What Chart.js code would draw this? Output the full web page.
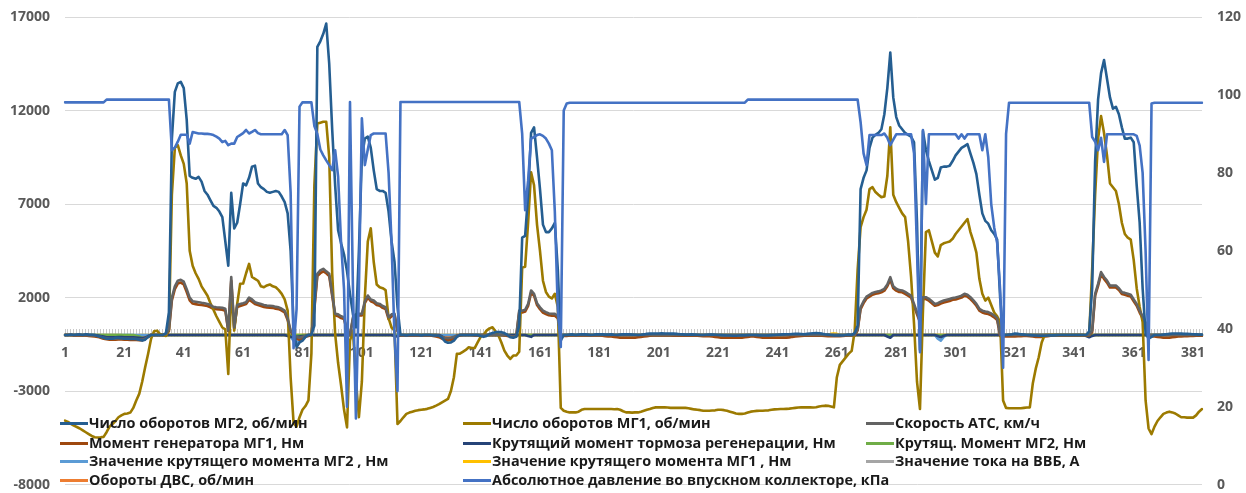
<!DOCTYPE html>
<html>
<head>
<meta charset="utf-8">
<script src="https://cdn.jsdelivr.net/npm/chart.js@4.4.1/dist/chart.umd.min.js"></script>
<style>
  body { margin: 0; background: #fff; }
  #wrap { position: relative; width: 1246px; height: 493px; }
  #legend { position: absolute; left: 0; top: 0; width: 1246px; height: 493px; pointer-events: none; }
  .item { position: absolute; height: 20px; line-height: 20px; white-space: nowrap;
          font: bold 14px 'Open Sans', sans-serif; color: #1a1a1a; }
  .swatch { position: absolute; left: 0; top: 9px; width: 28px; height: 3px; }
  .txt { position: absolute; left: 29px; top: 0; transform: scaleX(1.03); transform-origin: 0 50%; }
</style>
</head>
<body>
<div id="wrap">
  <canvas id="chart"></canvas>
  <div id="legend"></div>
</div>
<script>
const N = 384;
const categories = Array.from({length: N}, (_, i) => String(i + 1));

const seriesNames = [
  'Число оборотов МГ2, об/мин',
  'Число оборотов МГ1, об/мин',
  'Скорость АТС, км/ч',
  'Момент генератора МГ1, Нм',
  'Крутящий момент тормоза регенерации, Нм',
  'Крутящ. Момент МГ2, Нм',
  'Значение крутящего момента МГ2 , Нм',
  'Значение крутящего момента МГ1 , Нм',
  'Значение тока на ВВБ, А',
  'Обороты ДВС, об/мин',
  'Абсолютное давление во впускном коллекторе, кПа'
];

const leftTicks = [-8000, -3000, 2000, 7000, 12000, 17000];
const rightTicks = [0, 20, 40, 60, 80, 100, 120];

// число оборотов МГ2
const mg2Speed = [
  0, 0, 30, 0, 20, 30, 0, 40, 20, 10,
  0, -50, -100, -150, -200, -200, -200, -150, -150, -180,
  -200, -200, -220, -200, -220, -250, -300, -250, -100, 0,
  0, 0, 0, 0, 100, 1200, 10500, 13000, 13450, 13530,
  13200, 11500, 8500, 8400, 8350, 8450, 8200, 7700, 7500, 7200,
  6900, 6800, 6600, 6300, 5000, 3700, 7600, 5700, 6000, 7000,
  8100, 8000, 8400, 9000, 9050, 8100, 7900, 7800, 7650, 7600,
  7650, 7700, 7650, 7400, 7100, 6500, 4500, 400, -650, -400,
  -300, -100, 0, 0, 500, 15400, 15700, 16100, 16650, 14500,
  11000, 8000, 5600, 4900, 4300, 3400, 2200, 1100, 400, 4500,
  9500, 10500, 10600, 10000, 8800, 7800, 7700, 7700, 7600, 6600,
  5000, 3900, 1500, 0, 0, -20, 0, 10, 0, 0,
  -20, 0, 0, 0, -30, -30, -30, -150, -350, -420,
  -400, -300, -100, 0, 0, 0, 0, 0, 0, 0,
  -50, -100, -50, 50, 100, 150, 150, 150, 100, 0,
  -120, -150, -100, 500, 5200, 5300, 7500, 10800, 11100, 9500,
  7800, 5900, 5500, 5500, 5700, 6000, 3500, -300, 0, 0,
  20, 30, 0, 20, 40, 30, 20, 0, 10, 30,
  40, 30, 20, 20, 30, 10, 0, 20, 30, 40,
  30, 20, 10, 0, 10, 30, 60, 70, 80, 80,
  80, 90, 80, 80, 70, 70, 60, 40, 30, 20,
  20, 30, 20, 10, 0, 0, 10, 20, 20, 10,
  0, -10, -20, -30, -30, -40, -40, -30, -20, -20,
  -10, 0, 0, -10, -20, -30, -30, -20, -10, 0,
  10, 20, 30, 40, 40, 50, 60, 60, 50, 40,
  60, 80, 90, 100, 90, 70, 40, 20, 0, -20,
  -30, -20, -30, 0, 20, 0, 100, 500, 7800, 8400,
  8800, 10000, 10550, 10700, 10800, 11000, 11800, 13200, 15100, 12700,
  11650, 11200, 11000, 10800, 10700, 10600, 10300, 6000, -800, 10900,
  9900, 9300, 8800, 8300, 8400, 8950, 9000, 9000, 9050, 9300,
  9600, 9800, 10000, 10100, 10200, 9700, 9200, 8600, 7500, 6500,
  6100, 5950, 5600, 5400, 5100, 2000, 0, 0, 20, 40,
  80, 60, 30, 20, 0, -10, -20, -30, -40, -40,
  -40, -30, -20, -20, -10, 0, 0, 0, 0, 0,
  0, 0, 0, 0, 0, 200, 2500, 9300, 12600, 14000,
  14700, 13700, 12700, 12100, 12200, 11800, 11100, 10500, 10500, 10550,
  10300, 8000, 6000, 2500, 100, -200, -100, 0, 0, 0,
  20, 40, 60, 80, 80, 80, 70, 60, 60, 50,
  40, 30, 20, 20
];

// число оборотов МГ1
const mg1Speed = [
  -4580, -4650, -4750, -4850, -4920, -5000, -5100, -5200, -5300, -5400,
  -5470, -5480, -5470, -5450, -5200, -4900, -4760, -4600, -4400, -4300,
  -4220, -4200, -4150, -3900, -3500, -3150, -2500, -1730, -1000, -200,
  200, 230, 50, 0, -50, 300, 7500, 10000, 10150, 9600,
  9150, 8100, 4500, 3700, 3300, 3000, 2600, 2350, 2100, 1700,
  1350, 1000, 700, 400, 300, -2080, 2550, 235, 1660, 2735,
  2750, 3300, 3800, 3100, 3000, 2900, 2600, 2550, 2650, 2700,
  2600, 2550, 2400, 2200, 1900, 1300, -2260, -4700, -4900, -4400,
  -4000, -3800, -3500, -1000, 8000, 11300, 11350, 11400, 11400, 9500,
  3300, 60, -1500, -2700, -4000, -4940, -300, 235, -2400, -4400,
  -2500, 2000, 5000, 5700, 3900, 2700, 2550, 2500, 2400, 900,
  400, 235, -4760, -4600, -4400, -4220, -4150, -4100, -4050, -4020,
  -4000, -3980, -3950, -3900, -3850, -3780, -3700, -3600, -3510, -3420,
  -3000, -2260, -1010, -1000, -900, -800, -660, -700, -700, -400,
  -100, 0, 235, 350, 410, 200, -30, -400, -835, -1100,
  -1280, -1100, -1100, -900, 3600, 3650, 6000, 8700, 8000, 5900,
  4500, 2900, 2300, 2050, 1950, 2200, 1500, -3900, -4050, -4100,
  -4140, -4140, -4140, -4100, -4000, -3960, -3960, -3960, -3960, -3960,
  -3960, -3960, -3960, -3960, -3960, -3970, -3960, -4000, -4080, -4140,
  -4140, -4150, -4140, -4140, -4100, -4050, -4000, -3960, -3900, -3870,
  -3870, -3870, -3870, -3880, -3900, -3900, -3900, -3900, -3900, -3900,
  -3920, -3950, -3980, -4000, -4020, -4050, -4050, -4050, -4040, -4030,
  -4000, -4000, -4020, -4050, -4100, -4150, -4200, -4220, -4220, -4200,
  -4150, -4100, -4080, -4060, -4050, -4050, -4040, -4030, -4000, -3980,
  -3970, -3960, -3960, -3950, -3940, -3920, -3900, -3880, -3870, -3870,
  -3870, -3870, -3880, -3860, -3820, -3800, -3780, -3790, -3830, -3870,
  -2260, -1600, -1400, -1200, -1000, -850, 200, 3500, 5770, 6300,
  6700, 7800, 7900, 7640, 7500, 7370, 7400, 8500, 11100, 7500,
  7100, 6800, 6500, 6300, 5000, 3100, 600, -2500, -3960, 1300,
  5500, 5600, 5000, 4400, 4200, 4800, 4900, 4950, 5000, 5140,
  5400, 5600, 5800, 6000, 6200, 5500, 5000, 4400, 3000, 2200,
  1840, 2000, 1600, 1200, 1000, 700, -3500, -3900, -3920, -3920,
  -3920, -3920, -3920, -3900, -3880, -3870, -2600, -1800, -1190, -400,
  0, 0, 0, 0, 0, 0, 0, 0, 0, 0,
  0, 0, 0, 0, 0, 0, 3500, 7500, 10500, 11700,
  10800, 9600, 8100, 7900, 7700, 7000, 6000, 5400, 5200, 5100,
  4000, 2500, 1500, 700, -3500, -5000, -5300, -4900, -4600, -4400,
  -4220, -4150, -4100, -4140, -4200, -4300, -4400, -4400, -4420, -4420,
  -4420, -4300, -4100, -3960
];

// скорость АТС
const vehicleSpeed = [
  0, 0, 0, 0, 0, 0, 0, 0, -20, -20,
  -30, -60, -100, -150, -180, -200, -200, -200, -180, -180,
  -200, -200, -200, -200, -220, -250, -250, -200, -100, 0,
  0, 0, 0, 0, 50, 300, 2000, 2600, 2900, 2950,
  2850, 2450, 2000, 1800, 1780, 1750, 1720, 1700, 1660, 1600,
  1500, 1480, 1470, 1450, 1400, 235, 3090, 400, 1600, 1660,
  1700, 1750, 2000, 1900, 1750, 1700, 1650, 1600, 1570, 1560,
  1550, 1500, 1480, 1400, 1300, 900, 235, 0, -100, -150,
  -100, -50, 0, 0, 1500, 3270, 3450, 3540, 3400, 3270,
  2200, 1130, 1100, 1000, 950, 235, 0, 950, 1100, 1130,
  1130, 1800, 2110, 1900, 1840, 1700, 1660, 1550, 1480, 950,
  1100, 1130, 235, 0, 0, 0, 0, 0, 0, 0,
  0, 0, 0, 0, 0, 0, -30, -100, -150, -180,
  -150, -100, -30, 0, 0, 0, 0, 0, 0, 0,
  0, 0, 0, 0, 0, 0, 0, 0, 0, 0,
  -50, -80, -50, 1300, 1300, 1350, 1660, 2380, 2200, 1700,
  1480, 1300, 1220, 1150, 1130, 1130, 1000, 0, 0, 0,
  0, 0, 0, 0, 0, 0, 0, 0, 0, 0,
  0, 0, 0, 0, 0, 0, 0, 0, 0, 0,
  0, 0, 0, 0, 0, 0, 0, 0, 0, 0,
  0, 0, 0, 0, 0, 0, 0, 0, 0, 0,
  0, 0, 0, 0, 0, 0, 0, 0, 0, 0,
  0, 0, 0, 0, 0, 0, 0, 0, 0, 0,
  0, 0, 0, 0, 0, 0, 0, 0, 0, 0,
  0, 0, 0, 0, 0, 0, 0, 0, 0, 0,
  0, 0, 0, 0, 0, 0, 0, 0, 0, 0,
  0, 0, 0, 0, 0, 0, 0, 300, 1480, 1800,
  2050, 2150, 2250, 2300, 2330, 2380, 2470, 2700, 3090, 2600,
  2470, 2400, 2380, 2300, 2200, 2100, 1660, 1200, 770, 2020,
  2020, 1930, 1800, 1660, 1700, 1780, 1840, 1880, 1920, 1980,
  2000, 2050, 2100, 2200, 2150, 2020, 1850, 1660, 1400, 1300,
  1250, 1220, 1150, 1040, 900, 0, 0, 0, 0, 0,
  0, 0, 0, 0, 0, 0, 0, 0, 0, 0,
  0, 0, 0, 0, 0, 0, 0, 0, 0, 0,
  0, 0, 0, 0, 0, 0, 235, 2200, 2735, 3360,
  3100, 2910, 2640, 2640, 2640, 2500, 2290, 2250, 2200, 2150,
  1900, 1660, 1300, 1000, 680, 0, 0, 0, 0, 0,
  0, 0, 0, 0, 0, 0, 0, 0, 0, 0,
  0, 0, 0, 0
];

// момент генератора МГ1
const mg1GenTorque = [
  0, 0, 0, -20, -30, -30, -20, -30, -50, -60,
  -80, -100, -150, -200, -230, -250, -250, -250, -240, -240,
  -250, -250, -260, -260, -270, -280, -280, -220, -100, 0,
  0, 0, 0, 0, 0, 200, 1850, 2450, 2750, 2800,
  2700, 2300, 1850, 1680, 1650, 1620, 1600, 1580, 1550, 1480,
  1400, 1380, 1370, 1350, 1300, 200, 2900, 350, 1500, 1550,
  1600, 1650, 1880, 1780, 1650, 1600, 1550, 1500, 1470, 1460,
  1450, 1400, 1380, 1300, 1200, 800, 200, -50, -200, -250,
  -200, -100, -50, 0, 1400, 3150, 3300, 3400, 3300, 3150,
  2100, 1050, 1000, 900, 850, 200, 0, 850, 1000, 1050,
  1050, 1700, 2000, 1800, 1740, 1600, 1560, 1450, 1380, 850,
  1000, 1050, 200, -30, -30, -30, -20, -20, -20, -20,
  -20, -20, -20, -30, -50, -80, -120, -200, -250, -280,
  -250, -200, -80, -20, 0, 0, 0, 0, -20, -20,
  -20, 0, 0, 0, 0, 0, 0, 0, -20, -50,
  -80, -100, -80, 1200, 1200, 1250, 1550, 2250, 2100, 1600,
  1380, 1200, 1120, 1050, 1030, 1030, 900, -50, -50, -50,
  -30, -30, -30, -30, -30, -20, -20, -20, -20, -20,
  -30, -40, -60, -80, -80, -100, -120, -150, -150, -150,
  -150, -150, -150, -120, -100, -80, -60, -40, -30, -20,
  -20, -20, -30, -30, -30, -40, -40, -40, -40, -40,
  -40, -40, -40, -40, -50, -60, -60, -60, -80, -100,
  -120, -150, -150, -150, -150, -150, -150, -150, -150, -120,
  -100, -80, -80, -100, -120, -150, -150, -150, -150, -150,
  -150, -150, -150, -150, -130, -100, -80, -60, -50, -40,
  -40, -40, -40, -40, -40, -40, -50, -60, -60, -60,
  -60, -60, -50, -40, -30, -30, -30, 250, 1380, 1700,
  1950, 2050, 2150, 2200, 2230, 2280, 2370, 2600, 2950, 2500,
  2370, 2300, 2280, 2200, 2100, 2000, 1560, 1100, 680, 1920,
  1920, 1830, 1700, 1560, 1600, 1680, 1740, 1780, 1820, 1880,
  1900, 1950, 2000, 2100, 2050, 1920, 1750, 1560, 1300, 1200,
  1150, 1120, 1050, 940, 800, -50, -80, -80, -80, -80,
  -80, -60, -60, -50, -50, -60, -80, -100, -100, -100,
  -80, -60, -40, -30, -20, -20, -20, -20, -20, -20,
  -20, -20, -20, -20, -20, -20, 150, 2100, 2620, 3250,
  3000, 2800, 2540, 2540, 2540, 2400, 2190, 2150, 2100, 2050,
  1800, 1560, 1200, 900, 580, -50, -80, -80, -100, -120,
  -150, -150, -150, -120, -100, -80, -80, -60, -60, -50,
  -50, -40, -40, -40
];

// крутящий момент тормоза регенерации
const regenTorque = [
  0,0,0,0,0,0,0,0,0,0,0,-30,-60,-90,-120,-120,-120,-120,-110,-110,
  -120,-120,-130,-130,-140,-150,-160,-140,-60,0,0,0,0,0,0,0,0,0,0,0,
  0,0,0,0,0,0,0,0,0,0,0,0,0,0,0,0,0,0,0,0,
  0,0,0,0,0,0,0,0,0,0,0,0,0,0,0,-50,-100,-120,-100,-80,
  -60,-40,0,0,0,0,0,0,0,0,0,0,0,0,0,0,0,0,0,0,
  0,0,0,0,0,0,0,0,0,0,0,-60,-80,0,0,0,0,0,0,0,
  0,0,0,0,0,0,0,-80,-200,-260,-240,-160,-40,0,0,0,0,0,0,0,
  0,0,0,0,0,0,0,0,0,0,0,0,0,0,0,0,-60,-100,0,0,
  0,0,0,0,0,0,0,0,0,0,0,0,0,0,0,0,0,0,0,0,
  0,0,0,0,0,0,0,0,0,0,0,0,0,0,0,0,0,0,0,0,
  0,0,0,0,0,0,0,0,0,0,0,0,0,0,0,0,0,0,0,0,
  0,0,0,0,0,0,0,0,0,0,0,0,0,0,0,0,0,0,0,0,
  0,0,0,0,0,0,0,0,0,0,0,0,0,0,0,0,0,0,0,0,
  0,0,0,0,0,0,0,0,0,0,0,0,0,0,0,0,0,-80,-150,0,
  0,0,0,0,0,0,0,0,0,0,0,0,0,0,-60,-120,-40,0,0,0,
  0,0,0,0,0,0,0,0,0,0,0,0,0,0,0,0,0,0,0,0,
  0,0,0,0,0,0,0,0,0,0,0,0,0,0,0,0,0,0,0,0,
  0,0,0,0,-60,-120,-50,0,0,0,0,0,0,0,0,0,0,0,0,0,
  0,0,0,0,0,0,0,0,0,0,0,0,0,0,0,0,0,0,0,0,
  0,0,0,0
];

// крутящ. момент МГ2
const mg2Torque = [
  0,0,0,0,0,0,0,0,0,0,0,0,0,0,0,0,0,0,0,0,
  0,0,0,0,-40,-80,-150,-180,-80,0,0,0,0,0,0,0,0,0,0,0,
  0,0,0,0,0,0,0,0,0,0,0,0,0,0,0,0,0,0,0,0,
  0,0,0,0,0,0,0,0,0,0,0,0,0,0,0,0,0,0,0,0,
  0,0,0,0,0,0,0,0,0,0,0,0,0,0,0,0,0,0,0,0,
  0,0,0,0,0,0,0,0,0,0,0,0,0,0,0,0,0,0,0,0,
  0,0,0,0,0,0,-50,-120,-250,-300,-280,-180,-50,0,0,0,0,0,0,0,
  0,0,0,0,0,0,0,0,0,0,0,0,0,0,0,0,0,0,0,0,
  0,0,0,0,0,0,0,0,0,0,0,0,0,0,0,0,0,0,0,0,
  0,0,0,0,0,0,0,0,0,0,0,0,0,0,0,0,0,0,0,0,
  0,0,0,0,0,0,0,0,0,0,0,0,0,0,0,0,0,0,0,0,
  0,0,0,0,0,0,0,0,0,0,0,0,0,0,0,0,0,0,0,0,
  0,0,0,0,0,0,0,0,0,0,0,0,0,0,0,0,0,0,0,0,
  0,0,0,0,0,0,0,0,0,0,0,0,0,0,0,0,0,0,0,0,
  0,0,0,0,0,0,0,0,0,0,0,0,0,0,0,0,0,0,0,0,
  0,0,0,0,0,0,0,0,0,0,0,0,0,0,0,0,0,0,0,0,
  0,0,0,0,0,0,0,0,0,0,0,0,0,0,0,0,0,0,0,0,
  0,0,0,0,0,0,0,0,0,0,0,0,0,0,0,0,0,0,0,0,
  0,0,0,0,0,0,0,0,0,0,0,0,0,0,0,0,0,0,0,0,
  0,0,0,0
];

// значение крутящего момента МГ2
const mg2TorqueValue = [
  0,0,0,0,0,0,0,0,0,0,0,0,0,0,0,0,0,0,0,0,
  0,0,0,0,0,0,0,0,0,0,0,0,0,0,0,0,0,0,0,0,
  0,0,0,0,0,0,0,0,0,0,0,0,0,0,0,0,0,0,0,0,
  0,0,0,0,0,0,0,0,0,0,0,0,0,0,0,0,-100,-300,-400,-300,
  -150,0,0,0,0,0,0,0,0,0,0,0,0,0,0,0,0,0,0,0,
  0,0,0,0,0,0,0,0,0,0,0,0,0,0,0,0,0,0,0,0,
  0,0,0,0,0,0,0,0,0,0,0,0,0,0,0,0,0,0,0,0,
  0,0,0,0,0,0,0,0,0,0,0,0,0,0,0,0,0,0,0,0,
  0,0,0,0,0,0,0,0,0,0,0,0,0,0,0,0,0,0,0,0,
  0,0,0,0,0,0,0,0,0,0,0,0,0,0,0,0,0,0,0,0,
  0,0,0,0,0,0,0,0,0,0,0,0,0,0,0,0,0,0,0,0,
  0,0,0,0,0,0,0,0,0,0,0,0,0,0,0,0,0,0,0,0,
  0,0,0,0,0,0,0,0,0,0,0,0,0,0,0,0,0,0,0,0,
  0,0,0,0,0,0,0,0,0,0,0,0,0,0,0,0,0,0,0,0,
  0,0,0,0,0,0,0,0,0,0,0,0,0,0,-200,-300,-100,0,0,0,
  0,0,0,0,0,0,0,0,0,0,0,0,0,0,0,0,0,0,0,0,
  0,0,0,0,0,0,0,0,0,0,0,0,0,0,0,0,0,0,0,0,
  0,0,0,0,0,0,0,0,0,0,0,0,0,0,0,0,0,0,0,0,
  0,0,0,0,0,0,0,0,0,0,0,0,0,0,0,0,0,0,0,0,
  0,0,0,0
];

// значение крутящего момента МГ1
const mg1TorqueValue = [
  0,0,0,0,0,0,0,0,0,0,0,0,0,0,0,0,0,0,0,0,
  -40,-60,-80,-60,-40,0,0,0,0,0,0,0,0,0,0,0,0,0,0,0,
  0,0,0,0,0,0,0,0,0,0,0,0,0,0,0,0,0,0,0,0,
  0,0,0,0,0,0,0,0,0,0,0,0,0,0,0,0,0,0,0,0,
  0,0,0,0,0,0,0,0,0,0,0,0,0,0,0,0,0,0,0,0,
  0,0,0,0,0,0,0,0,0,0,0,0,0,0,0,0,0,0,0,0,
  0,0,0,0,0,0,0,0,0,0,0,0,0,0,0,0,0,0,0,0,
  0,0,0,0,0,0,0,0,0,0,0,0,0,0,0,0,0,0,0,0,
  0,0,0,0,0,0,0,0,0,0,0,0,0,0,0,0,0,0,0,0,
  0,0,0,0,0,0,0,0,0,0,0,0,0,0,0,0,0,0,0,0,
  0,0,0,0,0,0,0,0,0,0,0,0,0,0,0,0,0,0,0,0,
  0,0,0,0,0,0,0,0,0,0,0,0,0,0,0,0,0,0,0,0,
  0,0,0,0,0,0,0,0,0,0,0,0,0,0,0,0,0,0,60,80,
  60,0,0,0,0,0,0,0,0,0,0,0,0,0,0,0,0,0,0,0,
  0,0,0,0,0,0,0,0,0,0,0,0,0,0,0,0,0,0,0,0,
  0,0,0,0,0,0,0,0,0,0,0,0,0,0,0,0,0,0,0,0,
  0,0,0,0,0,0,0,0,0,0,0,0,0,0,0,0,0,0,0,0,
  0,0,0,0,0,0,0,0,0,0,0,0,0,0,0,0,0,0,0,0,
  0,0,0,0,0,0,0,0,0,0,0,0,0,0,0,0,0,0,0,0,
  0,0,0,0
];

// значение тока на ВВБ
const batteryCurrent = [
  0,0,0,0,0,0,0,0,0,0,0,0,0,0,0,0,0,0,0,0,
  0,0,0,0,0,0,0,0,0,0,0,0,0,0,0,0,0,0,0,0,
  0,0,0,0,0,0,0,0,0,0,0,0,0,0,0,0,0,0,0,0,
  0,0,0,0,0,0,0,0,0,0,0,0,0,0,0,0,0,0,0,0,
  0,0,0,0,0,0,0,0,0,0,0,0,0,0,0,0,0,0,0,0,
  0,0,0,0,0,0,0,0,0,0,0,0,0,0,0,0,0,0,0,0,
  0,0,0,0,0,0,0,0,0,0,0,0,0,0,0,0,0,0,0,0,
  0,0,0,0,0,0,0,0,0,0,0,0,0,0,0,0,0,0,0,0,
  0,0,0,0,0,0,0,0,0,0,0,0,0,0,0,0,0,0,0,0,
  0,0,0,0,0,0,0,0,0,0,0,0,0,0,0,0,0,0,0,0,
  0,0,0,0,0,0,0,0,0,0,0,0,0,0,0,0,0,0,0,0,
  0,0,0,0,0,0,0,0,0,0,0,0,0,0,0,0,0,0,0,0,
  0,0,0,0,0,0,0,0,0,0,0,0,0,0,0,0,0,0,0,0,
  0,0,0,0,0,0,0,0,0,0,0,0,0,0,0,0,0,0,0,0,
  0,0,0,0,0,0,0,0,0,0,0,0,0,0,0,0,0,0,0,0,
  0,0,0,0,0,0,0,0,0,0,0,0,0,0,0,0,0,0,0,0,
  0,0,0,0,0,0,0,0,0,0,0,0,0,0,0,0,0,0,0,0,
  0,0,0,0,0,0,0,0,0,0,0,0,0,0,0,0,0,0,0,0,
  0,0,0,0,0,0,0,0,0,0,0,0,0,0,0,0,0,0,0,0,
  0,0,0,0
];

// обороты ДВС
const engineSpeed = [
  0,0,0,0,0,0,0,0,0,-20,-40,-60,-80,-100,-120,-130,-130,-130,-120,-120,
  -120,-120,-130,-130,-140,-150,-150,-120,-60,0,0,0,0,0,0,0,0,0,0,0,
  0,0,0,0,0,0,0,0,0,0,0,0,0,0,0,0,0,0,0,0,
  0,0,0,0,0,0,0,0,0,0,0,0,0,0,0,0,-50,-80,-80,-50,
  0,0,0,0,0,0,0,0,0,0,0,0,0,0,0,0,0,0,0,0,
  0,0,0,0,0,0,0,0,0,0,0,0,0,0,0,0,0,0,0,0,
  0,0,0,0,0,0,0,-40,-80,-100,-80,-40,0,0,0,0,0,0,0,0,
  0,0,0,0,0,0,0,0,0,0,0,0,0,0,0,0,0,0,0,0,
  0,0,0,0,0,0,0,0,0,0,0,0,0,0,0,0,0,0,0,0,
  0,0,0,0,0,0,0,0,0,0,0,0,0,0,0,0,0,0,0,0,
  0,0,0,0,0,0,0,0,0,0,0,0,0,0,0,0,0,0,0,0,
  0,0,0,0,0,0,0,0,0,0,0,0,0,0,0,0,0,0,0,0,
  0,0,0,0,0,0,0,0,0,0,0,0,0,0,0,0,0,0,0,0,
  0,0,0,0,0,0,0,0,0,0,0,0,0,0,0,0,0,0,0,0,
  0,0,0,0,0,0,0,0,0,0,0,0,0,0,0,0,0,0,0,0,
  0,0,0,0,0,0,0,0,0,0,0,0,0,0,0,0,0,0,0,0,
  0,0,0,0,0,0,0,0,0,0,0,0,0,0,0,0,0,0,0,0,
  0,0,0,0,0,0,0,0,0,0,0,0,0,0,0,0,0,0,0,0,
  0,0,0,0,0,0,0,0,0,0,0,0,0,0,0,0,0,0,0,0,
  0,0,0,0
];

// абсолютное давление во впускном коллекторе, кПа (правая ось)
const intakePressure = [
  98.1, 98.1, 98.1, 98.1, 98.1, 98.1, 98.1, 98.1, 98.1, 98.1,
  98.1, 98.1, 98.1, 98.1, 98.8, 98.8, 98.8, 98.8, 98.8, 98.8,
  98.8, 98.8, 98.8, 98.8, 98.8, 98.8, 98.8, 98.8, 98.8, 98.8,
  98.8, 98.8, 98.8, 98.8, 98.8, 98.8, 85.8, 86.5, 88, 89.8,
  89.8, 89.8, 87.5, 90.5, 90.3, 90.1, 90.1, 90, 90, 89.9,
  89.7, 89.3, 88.8, 87.9, 88.2, 87.1, 87.5, 87.5, 89.2, 89.7,
  90.2, 91, 90.1, 90.5, 91, 90.2, 89.9, 89.9, 89.9, 89.9,
  89.9, 89.9, 89.9, 89.9, 91, 89.7, 75, 35, 45, 97,
  98.1, 98.1, 98.1, 98.1, 92, 90, 86, 84.5, 83.2, 82,
  80.7, 85.8, 79, 62, 50, 20, 98.2, 50, 17, 50,
  94, 82, 86, 89.7, 90.1, 90.1, 90.1, 90.1, 90.1, 80,
  62, 38, 24, 98.2, 98.2, 98.2, 98.2, 98.2, 98.2, 98.2,
  98.2, 98.2, 98.2, 98.2, 98.2, 98.2, 98.2, 98.2, 98.2, 98.2,
  98.2, 98.2, 98.2, 98.2, 98.2, 98.2, 98.2, 98.2, 98.2, 98.2,
  98.2, 98.2, 98.2, 98.2, 98.2, 98.2, 98.2, 98.2, 98.2, 98.2,
  98.2, 98.2, 98.2, 98.2, 90, 70.4, 78, 88.8, 89.2, 89.7,
  89.9, 89.5, 88.8, 87.5, 85.8, 70, 45, 35.3, 96, 97.8,
  98, 98, 98, 98, 98, 98, 98, 98, 98, 98,
  98, 98, 98, 98, 98, 98, 98, 98, 98, 98,
  98, 98, 98, 98, 98, 98, 98, 98, 98, 98,
  98, 98, 98, 98, 98, 98, 98, 98, 98, 98,
  98, 98, 98, 98, 98, 98, 98, 98, 98, 98,
  98, 98, 98, 98, 98, 98, 98, 98, 98, 98,
  98.8, 98.8, 98.8, 98.8, 98.8, 98.8, 98.8, 98.8, 98.8, 98.8,
  98.8, 98.8, 98.8, 98.8, 98.8, 98.8, 98.8, 98.8, 98.8, 98.8,
  98.8, 98.8, 98.8, 98.8, 98.8, 98.8, 98.8, 98.8, 98.8, 98.8,
  98.8, 98.8, 98.8, 98.8, 98.8, 98.8, 98.8, 98.8, 93, 85,
  82, 89.7, 89.7, 89.7, 89.7, 89.7, 90.1, 89, 87.1, 88.5,
  89.9, 89.9, 89.9, 89.9, 89.9, 89.9, 85, 60, 34, 91,
  72, 89.9, 89.9, 89.9, 89.9, 89.9, 89.9, 89.9, 89.9, 89.9,
  89.9, 88.8, 89.9, 88.8, 89.9, 89.9, 89.9, 89.9, 89.9, 85.8,
  89.9, 84, 72, 66, 62, 50, 30, 90, 98, 98,
  98, 98, 98, 98, 98, 98, 98, 98, 98, 98,
  98, 98, 98, 98, 98, 98, 98, 98, 98, 98,
  98, 98, 98, 98, 98, 98, 89.2, 88, 85.8, 89,
  82.8, 89.9, 89.9, 89.9, 89.9, 89.9, 89.9, 89.9, 89.9, 89.9,
  89.9, 89.5, 87, 80, 60, 32, 97.8, 98, 98, 98,
  98, 98, 98, 98, 98, 98, 98, 98, 98, 98,
  98, 98, 98, 98
];

const seriesData = [mg2Speed, mg1Speed, vehicleSpeed, mg1GenTorque, regenTorque, mg2Torque,
  mg2TorqueValue, mg1TorqueValue, batteryCurrent, engineSpeed, intakePressure];
const seriesColors = ['#255E91', '#9C7A00', '#636363', '#9E480E', '#264478', '#70AD47',
  '#5B9BD5', '#FFC000', '#A5A5A5', '#ED7D31', '#4472C4'];
// порядок отрисовки: меньше — выше
const drawOrder = [1, 3, 2, 4, 5, 6, 7, 9, 10, 8, 0];

Chart.defaults.font.family = "'Open Sans', sans-serif";
Chart.defaults.font.size = 14;
Chart.defaults.font.weight = 'bold';
Chart.defaults.color = '#595959';

const datasets = seriesNames.map((name, k) => ({
  label: name,
  data: seriesData[k],
  borderColor: seriesColors[k],
  backgroundColor: seriesColors[k],
  borderWidth: 2.6,
  pointRadius: 0,
  tension: 0,
  borderJoinStyle: 'round',
  borderCapStyle: 'round',
  order: drawOrder[k],
  yAxisID: k === 10 ? 'y2' : 'y'
}));

const chart = new Chart(document.getElementById('chart'), {
  type: 'line',
  data: { labels: categories, datasets: datasets },
  options: {
    responsive: true,
    maintainAspectRatio: false,
    animation: false,
    events: [],
    layout: { padding: { top: 17, bottom: 8, left: 0, right: 0 } },
    plugins: { legend: { display: false }, tooltip: { enabled: false } },
    scales: {
      x: {
        type: 'category',
        position: { y: 300 },
        offset: false,
        afterFit: s => { s.height = 0; },
        border: { display: false },
        grid: { drawOnChartArea: false, drawTicks: true, tickLength: 8, color: '#C8C8C8' },
        ticks: {
          autoSkip: false, maxRotation: 0, padding: 7,
          callback: function (value, index) { return index % 20 === 0 ? this.getLabelForValue(value) : ''; }
        }
      },
      y: {
        position: 'left',
        min: leftTicks[0], max: leftTicks[leftTicks.length - 1],
        afterBuildTicks: s => { s.ticks = leftTicks.map(v => ({ value: v })); },
        afterFit: s => { s.width = 65; },
        border: { display: false },
        grid: { color: '#D9D9D9', drawTicks: true, tickLength: 15, tickColor: 'rgba(0,0,0,0)' },
        ticks: { padding: 0, callback: v => String(v) }
      },
      y2: {
        position: 'right',
        min: rightTicks[0], max: rightTicks[rightTicks.length - 1],
        afterBuildTicks: s => { s.ticks = rightTicks.map(v => ({ value: v })); },
        afterFit: s => { s.width = 44; },
        border: { display: false },
        grid: { drawOnChartArea: false, drawTicks: true, tickLength: 15, tickColor: 'rgba(0,0,0,0)' },
        ticks: { padding: 0, callback: v => String(v) }
      }
    }
  }
});

// легенда в три колонки поверх области графика
const legendCols = [60, 463, 866];
const legendRows = [413, 433, 451, 470];
const legendBox = document.getElementById('legend');
chart.data.datasets.forEach((ds, k) => {
  const item = document.createElement('div');
  item.className = 'item';
  item.style.left = legendCols[k % 3] + 'px';
  item.style.top = legendRows[Math.floor(k / 3)] + 'px';
  const sw = document.createElement('span');
  sw.className = 'swatch';
  sw.style.background = ds.borderColor;
  const tx = document.createElement('span');
  tx.className = 'txt';
  tx.textContent = ds.label;
  item.appendChild(sw);
  item.appendChild(tx);
  legendBox.appendChild(item);
});
</script>
</body>
</html>
